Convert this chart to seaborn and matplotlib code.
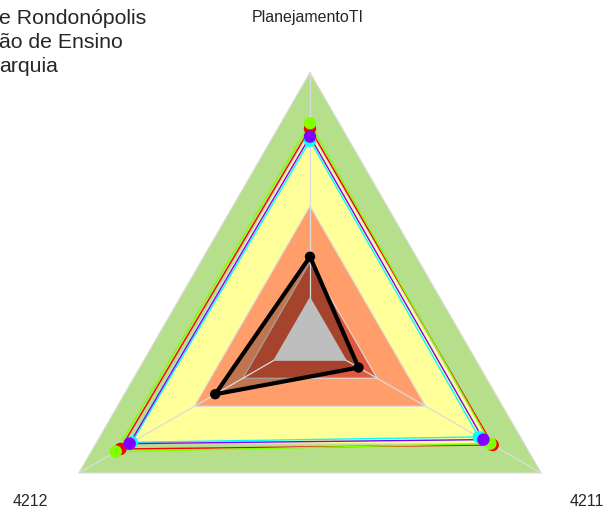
import numpy as np
import pandas as pd
import matplotlib
matplotlib.use("Agg")
import matplotlib.pyplot as plt
import seaborn as sns

# eixos do radar (sentido: topo, direita embaixo, esquerda embaixo)
axes_labels = ['PlanejamentoTI', '4211', '4212']

# faixas de fundo (raio relativo, mesmo valor nos 3 eixos)
band_levels = [1.00, 0.78, 0.50, 0.29, 0.16]
band_colors = ['#B6DF8C', '#FFFF99', '#FF9E6A', '#DE5A3C', '#BEBEBE']

# series (valores relativos por eixo: PlanejamentoTI, 4211, 4212)
serie_red = [0.79, 0.79, 0.82]
serie_green = [0.81, 0.78, 0.84]
serie_cyan = [0.745, 0.73, 0.77]
serie_purple = [0.76, 0.75, 0.78]
serie_black = [0.31, 0.21, 0.41]

series_names = ['s1', 's2', 's3', 's4']
series_vals = [serie_red, serie_green, serie_cyan, serie_purple]
series_cols = ['#FF0000', '#80FF00', '#00FFFF', '#8000FF']

title_lines = ['e Rondonópolis', 'ão de Ensino', 'arquia']

angles = np.deg2rad([90, -30, 210])


def to_xy(vals):
    v = np.asarray(vals, dtype=float)
    return v * np.cos(angles), v * np.sin(angles)


def closed(a):
    return np.append(a, a[0])


sns.set_theme(style="white")
plt.rcParams['font.family'] = ['Liberation Sans', 'DejaVu Sans']

fig = plt.figure(figsize=(6.06, 5.13), dpi=100)
ax = fig.add_axes([0, 0, 1, 1])
R = 267.0
cx, cy = 310.0, 339.5
ax.set_xlim(-cx / R, (606 - cx) / R)
ax.set_ylim((cy - 513) / R, cy / R)
ax.set_axis_off()

# faixas
for i, (lev, col) in enumerate(zip(band_levels[:-1], band_colors[:-1])):
    x, y = to_xy([lev] * 3)
    ax.fill(x, y, color=col, zorder=1 + i * 0.01, lw=0)
    ax.plot(closed(x), closed(y), color='#DCDCDC', lw=0.8, zorder=1.5)

# preenchimento da serie preta
bx, by = to_xy(serie_black)
ax.fill(bx, by, color='black', alpha=0.25, lw=0, zorder=2)

# linhas dos eixos
for a in angles:
    ax.plot([0, np.cos(a)], [0, np.sin(a)], color='#DCDCDC', lw=0.9, zorder=2.1)

# centro cinza
gx, gy = to_xy([band_levels[-1]] * 3)
ax.fill(gx, gy, color=band_colors[-1], lw=0, zorder=2.2)

# series coloridas
for name, vals, col in zip(series_names, series_vals, series_cols):
    x, y = to_xy(vals)
    df = pd.DataFrame({'x': closed(x), 'y': closed(y)})
    sns.lineplot(data=df, x='x', y='y', sort=False, estimator=None,
                 color=col, lw=1.0, ax=ax, zorder=3)
for name, vals, col in zip(series_names, series_vals, series_cols):
    x, y = to_xy(vals)
    sns.scatterplot(x=x, y=y, color=col, s=80, edgecolor='none', ax=ax, zorder=4)

# serie preta
dfb = pd.DataFrame({'x': closed(bx), 'y': closed(by)})
sns.lineplot(data=dfb, x='x', y='y', sort=False, estimator=None,
             color='black', lw=3.0, ax=ax, zorder=5)
sns.scatterplot(x=bx, y=by, color='black', s=55, edgecolor='none', ax=ax, zorder=6)

# rotulos dos eixos
fig.text(308 / 606, 1 - 17.5 / 513, axes_labels[0], ha='center', va='center', fontsize=11.5)
fig.text(587 / 606, 1 - 502 / 513, axes_labels[1], ha='center', va='center', fontsize=11.5)
fig.text(30 / 606, 1 - 502 / 513, axes_labels[2], ha='center', va='center', fontsize=11.5)

# titulo (cortado na esquerda)
for k, t in enumerate(title_lines):
    fig.text(-1 / 606, 1 - (18 + k * 24) / 513, t, ha='left', va='center', fontsize=15.3)

ax.set_xlabel('')
ax.set_ylabel('')
fig.savefig('out.png', dpi=100)
